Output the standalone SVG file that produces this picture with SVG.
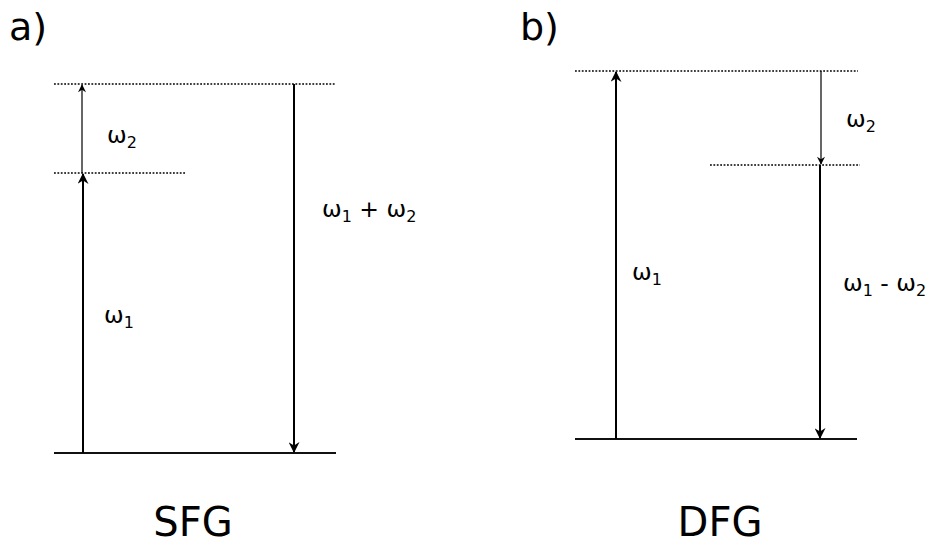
<svg xmlns="http://www.w3.org/2000/svg" width="928" height="545" viewBox="0 0 928 545">
<style>
text{font-family:"DejaVu Sans",sans-serif;fill:#000}
.lbl{font-size:23.5px}
.sub{font-size:16px}
.title{font-size:40px;text-anchor:middle}
.tag{font-size:38px}
.dot{stroke:#000;stroke-width:1.6;stroke-dasharray:1.8 1.6;fill:none}
.ground{stroke:#111;stroke-width:2.2;fill:none}
.thick{stroke:#000;stroke-width:2;fill:none}
.thin{stroke:#000;stroke-width:1.2;fill:none}
</style>
<defs>
<marker id="ah" viewBox="0 0 10 10" refX="9" refY="5" markerWidth="9" markerHeight="8" markerUnits="userSpaceOnUse" orient="auto">
<path d="M0,0 L10,5 L0,10 L3,5 Z" fill="#000"/>
</marker>
<marker id="ahL" viewBox="0 0 10 10" refX="9" refY="5" markerWidth="14" markerHeight="11" markerUnits="userSpaceOnUse" orient="auto">
<path d="M0,0 L10,5 L0,10 L3,5 Z" fill="#000"/>
</marker>
</defs>
<g id="levels">
<path class="dot" d="M54,84 H336"/>
<path class="dot" d="M54,173 H186"/>
<path class="ground" d="M54,453 H336"/>
<path class="dot" d="M575,71 H858"/>
<path class="dot" d="M710,165 H860"/>
<path class="ground" d="M575,439 H857"/>
</g>
<g id="connectors">
<path class="thick" d="M83,453 V174" marker-end="url(#ahL)"/>
<path class="thin" d="M82,173 V85" marker-end="url(#ah)"/>
<path class="thick" d="M294,84 V452" marker-end="url(#ahL)"/>
<path class="thick" d="M616,439 V72" marker-end="url(#ahL)"/>
<path class="thin" d="M821,71 V164" marker-end="url(#ah)"/>
<path class="thick" d="M820,165 V438" marker-end="url(#ahL)"/>
</g>
<g id="labels">
<text class="tag" x="9" y="40">a)</text>
<text class="tag" x="520" y="40">b)</text>
<text class="lbl" x="107" y="143">ω<tspan class="sub" dy="5">2</tspan></text>
<text class="lbl" x="104" y="323">ω<tspan class="sub" dy="5">1</tspan></text>
<text class="lbl" x="322" y="217">ω<tspan class="sub" dy="5">1</tspan><tspan dy="-5"> + ω</tspan><tspan class="sub" dy="5">2</tspan></text>
<text class="lbl" x="846" y="127">ω<tspan class="sub" dy="5">2</tspan></text>
<text class="lbl" x="632" y="280">ω<tspan class="sub" dy="5">1</tspan></text>
<text class="lbl" x="843" y="291">ω<tspan class="sub" dy="5">1</tspan><tspan dy="-5"> - ω</tspan><tspan class="sub" dy="5">2</tspan></text>
<text class="title" x="193" y="536">SFG</text>
<text class="title" x="720" y="536">DFG</text>
</g>
</svg>
